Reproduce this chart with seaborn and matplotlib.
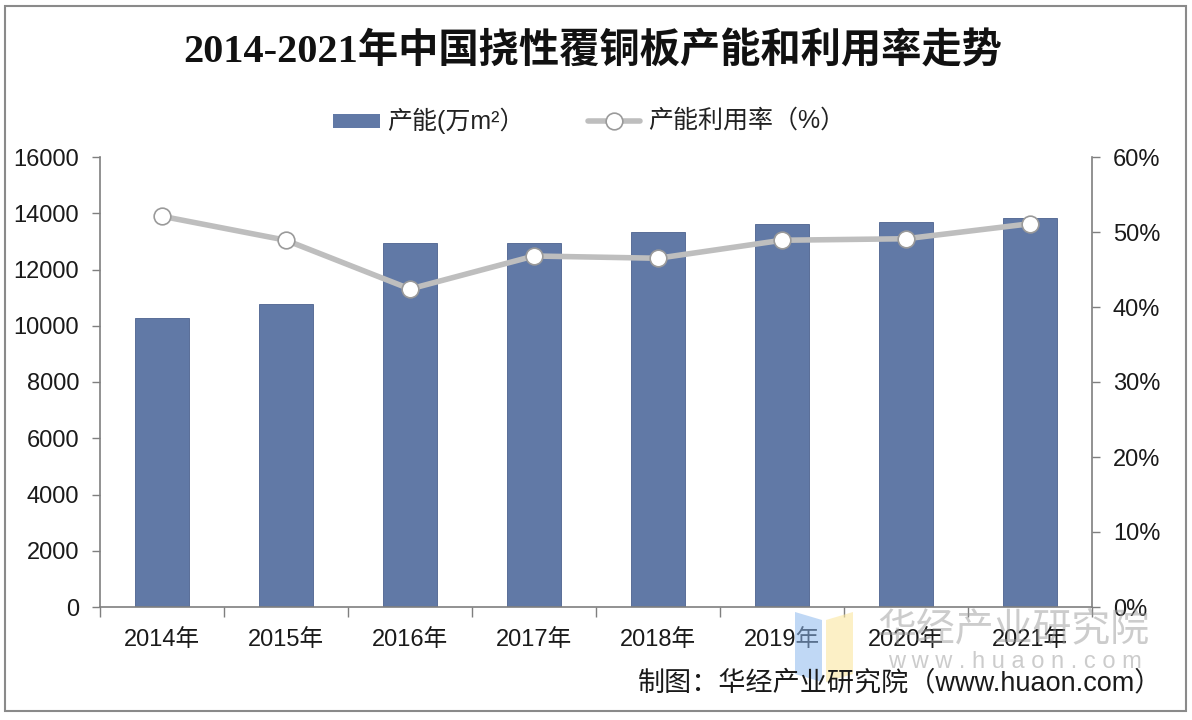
import numpy as np
import pandas as pd
import matplotlib
matplotlib.use("Agg")
import matplotlib.pyplot as plt
from matplotlib.patches import Rectangle, Polygon
from matplotlib.ticker import PercentFormatter
import seaborn as sns

# data
years = ["2014年", "2015年", "2016年", "2017年", "2018年", "2019年", "2020年", "2021年"]
capacity = [10280, 10770, 12950, 12960, 13320, 13620, 13680, 13830]   # 万m²
utilization = [0.521, 0.489, 0.424, 0.468, 0.465, 0.489, 0.491, 0.511]

sns.set_theme(style="white")
plt.rcParams["font.family"] = ["Liberation Sans", "Noto Sans CJK SC", "DejaVu Sans"]
plt.rcParams["axes.unicode_minus"] = False

bar_color = "#6179A6"
line_color = "#BEBEBE"
spine_color = "#7F7F7F"

fig = plt.figure(figsize=(11.92, 7.2), dpi=100)
fig.patch.set_facecolor("white")
ax = fig.add_axes([100 / 1192, 113 / 720, 992 / 1192, 450 / 720])

df = pd.DataFrame({"year": years, "capacity": capacity, "rate": utilization})

# bars: capacity
sns.barplot(data=df, x="year", y="capacity", ax=ax, color=bar_color,
            saturation=1, width=0.44, edgecolor="#4C628E", linewidth=0.6)
ax.set_ylim(0, 16000)
ax.set_yticks(np.arange(0, 16001, 2000))
ax.set_xlim(-0.5, 7.5)
ax.set_xlabel("")
ax.set_ylabel("")

# line: utilization rate on right axis
ax2 = ax.twinx()
sns.pointplot(data=df, x="year", y="rate", ax=ax2, color=line_color,
              markers="o", linestyles="-", linewidth=4,
              markersize=12, markerfacecolor="white",
              markeredgecolor="#9A9A9A", markeredgewidth=1.2)
ax2.set_ylim(0, 0.6)
ax2.set_yticks(np.arange(0, 0.61, 0.1))
ax2.yaxis.set_major_formatter(PercentFormatter(1.0, decimals=0))
ax2.set_xlim(-0.5, 7.5)
ax2.set_xlabel("")
ax2.set_ylabel("")

# spines and ticks
for a in (ax, ax2):
    a.spines["top"].set_visible(False)
    for s in ("left", "right", "bottom"):
        a.spines[s].set_color(spine_color)
        a.spines[s].set_linewidth(1.2)
    a.grid(False)
    a.set_facecolor("none")
ax.spines["right"].set_visible(False)
ax2.spines["left"].set_visible(False)
ax2.spines["bottom"].set_visible(False)

ax.tick_params(axis="y", which="major", left=True, direction="out", length=6,
               width=1, color=spine_color, labelsize=17, labelcolor="#1a1a1a", pad=9)
ax2.tick_params(axis="y", which="major", right=True, direction="out", length=6,
                width=1, color=spine_color, labelsize=17, labelcolor="#1a1a1a", pad=9)
ax.set_xticks(np.arange(-0.5, 8, 1), minor=True)
ax.tick_params(axis="x", which="major", length=0, labelsize=17, labelcolor="#1a1a1a", pad=16)
ax.tick_params(axis="x", which="minor", bottom=True, direction="out", length=7,
               width=1, color=spine_color)
ax2.tick_params(axis="x", which="both", length=0)

# title
fig.text(0.497, 0.928, "2014-2021年中国挠性覆铜板产能和利用率走势",
         ha="center", va="center", fontsize=29, fontweight="bold",
         family=["Liberation Serif", "Noto Sans CJK SC"], color="#111111")

# legend
fig.patches.append(Rectangle((333 / 1192, 1 - 128 / 720), 47 / 1192, 14 / 720,
                             transform=fig.transFigure, facecolor=bar_color,
                             edgecolor="none"))
fig.text(387 / 1192, 1 - 121 / 720, "产能(万m²）", ha="left", va="center",
         fontsize=18, color="#222222")
fig.lines.append(plt.Line2D([588 / 1192, 640 / 1192], [1 - 121 / 720, 1 - 121 / 720],
                            transform=fig.transFigure, color=line_color, lw=4,
                            zorder=3))
fig.lines.append(plt.Line2D([614 / 1192], [1 - 121 / 720], transform=fig.transFigure,
                            color=line_color, marker="o", markersize=12,
                            markerfacecolor="white", markeredgecolor="#9A9A9A",
                            markeredgewidth=1.2, zorder=4))
fig.text(648 / 1192, 1 - 121 / 720, "产能利用率（%）", ha="left", va="center",
         fontsize=18, color="#222222")

# watermark
fig.patches.append(Polygon([(795 / 1192, 1 - 612 / 720), (822 / 1192, 1 - 620 / 720),
                            (822 / 1192, 1 - 682 / 720), (795 / 1192, 1 - 674 / 720)],
                           closed=True, transform=fig.transFigure,
                           facecolor="#8DB8EE", alpha=0.55, edgecolor="none"))
fig.patches.append(Polygon([(826 / 1192, 1 - 620 / 720), (853 / 1192, 1 - 612 / 720),
                            (853 / 1192, 1 - 674 / 720), (826 / 1192, 1 - 682 / 720)],
                           closed=True, transform=fig.transFigure,
                           facecolor="#FBE7A0", alpha=0.6, edgecolor="none"))
fig.text(1013 / 1192, 1 - 630 / 720, "华经产业研究院", ha="center", va="center",
         fontsize=28, color="#9A9A9A", alpha=0.5)
fig.text(1015 / 1192, 1 - 662 / 720, "w w w . h u a o n . c o m", ha="center",
         va="center", fontsize=17, color="#9A9A9A", alpha=0.5)

# source
fig.text(1162 / 1192, 1 - 683 / 720, "制图：华经产业研究院（www.huaon.com）",
         ha="right", va="center", fontsize=19.5, color="#1a1a1a")

# outer frame
fig.patches.append(Rectangle((5 / 1192, 1 - 711 / 720), 1181 / 1192, 705 / 720,
                             transform=fig.transFigure, facecolor="none",
                             edgecolor="#8A8A8A", linewidth=1.5))

fig.savefig("out.png", dpi=100, facecolor="white")
